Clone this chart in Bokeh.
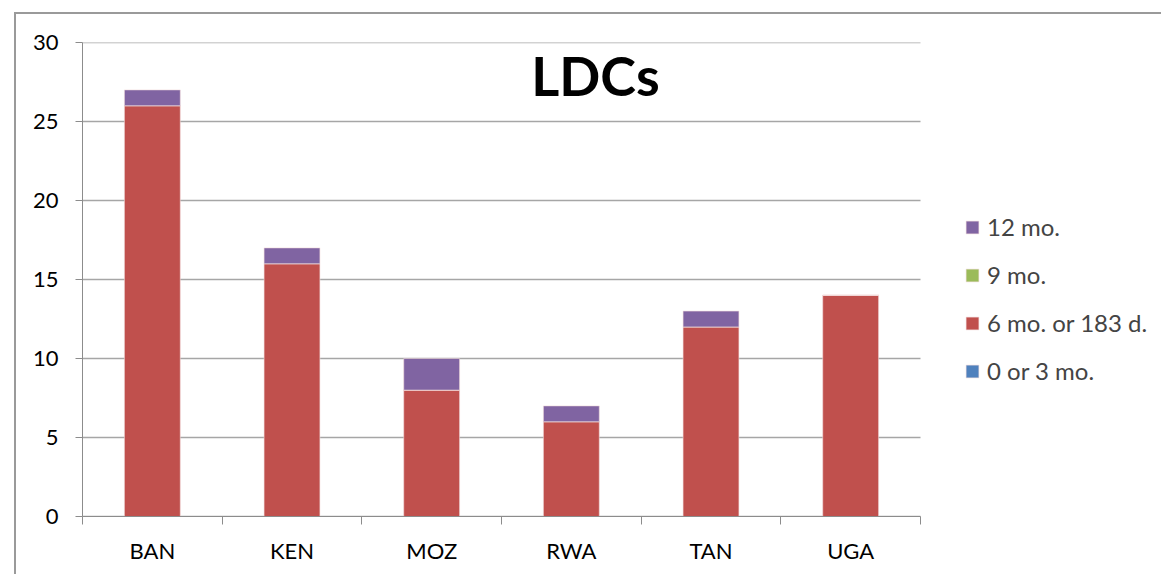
from bokeh.plotting import figure
from bokeh.models import (Range1d, FixedTicker, LinearAxis, Legend, LegendItem,
                          Label, ColumnDataSource)
from bokeh.embed import file_html
from bokeh.resources import INLINE

countries = ["BAN", "KEN", "MOZ", "RWA", "TAN", "UGA"]
m0_3 = [0, 0, 0, 0, 0, 0]
m6 = [26, 16, 8, 6, 12, 14]
m9 = [0, 0, 0, 0, 0, 0]
m12 = [1, 1, 2, 1, 1, 0]
series = ["0 or 3 mo.", "6 mo. or 183 d.", "9 mo.", "12 mo."]
colors = ["#4F81BD", "#C0504D", "#9BBB59", "#8064A2"]
y_ticks = [0, 5, 10, 15, 20, 25, 30]

FONT = "Lato"
GRID = "#A6A6A6"
AXIS = "#8C8C8C"

W, H = 1147, 562
BL, BR, BT, BB = 66, 3, 28, 60
frame_w = W - BL - BR
plot_w = 838  # pixel width of the category area
n = len(countries)
x_end = n * frame_w / plot_w

xs = [i + 0.5 for i in range(n)]
src = ColumnDataSource(dict(x=xs, s0=m0_3, s1=m6, s2=m9, s3=m12))

p = figure(width=W, height=H, output_backend="svg", toolbar_location=None,
           x_range=Range1d(0, x_end), y_range=Range1d(0, 30),
           x_axis_location=None, min_border_left=BL, min_border_top=BT,
           min_border_right=BR, min_border_bottom=BB)
p.outline_line_color = None
p.background_fill_color = "white"
p.border_fill_color = "white"
p.styles = {"margin-left": "14px", "margin-top": "12px",
            "border-left": "2px solid #9A9A9A", "border-top": "2px solid #9A9A9A"}

# horizontal grid lines limited to the category area
p.xgrid.grid_line_color = None
p.ygrid.grid_line_color = None
p.segment(x0=[0] * len(y_ticks), x1=[n] * len(y_ticks), y0=y_ticks, y1=y_ticks,
          line_color=GRID, line_width=1.5, level="underlay")

renderers = p.vbar_stack(["s0", "s1", "s2", "s3"], x="x", width=0.4, source=src,
                         color=colors, line_color="#F2DCDB", line_width=0.6)

# y axis
p.yaxis.ticker = FixedTicker(ticks=y_ticks)
p.yaxis.axis_line_color = AXIS
p.yaxis.major_tick_line_color = AXIS
p.yaxis.major_tick_in = 0
p.yaxis.major_tick_out = 7
p.yaxis.minor_tick_line_color = None
p.yaxis.major_label_text_font = FONT
p.yaxis.major_label_text_font_size = "22px"
p.yaxis.major_label_text_color = "black"
p.yaxis.major_label_standoff = 17

# x axis: tick marks at category boundaries
tick_axis = LinearAxis(ticker=FixedTicker(ticks=list(range(n + 1))), bounds=(0, n))
tick_axis.major_label_overrides = {i: "" for i in range(n + 1)}
tick_axis.major_label_text_font_size = "0px"
tick_axis.major_label_standoff = 0
tick_axis.major_tick_in = 0
tick_axis.major_tick_out = 8
tick_axis.minor_tick_line_color = None
tick_axis.axis_line_color = AXIS
tick_axis.major_tick_line_color = AXIS
p.add_layout(tick_axis, "below")

label_axis = LinearAxis(ticker=FixedTicker(ticks=xs))
label_axis.major_label_overrides = {x: c for x, c in zip(xs, countries)}
label_axis.axis_line_color = None
label_axis.major_tick_line_color = None
label_axis.minor_tick_line_color = None
label_axis.major_label_text_font = FONT
label_axis.major_label_text_font_size = "22px"
label_axis.major_label_text_color = "black"
label_axis.major_label_standoff = 6
p.add_layout(label_axis, "below")

# legend (reverse order, to the right of the bars)
items = [LegendItem(label=series[i], renderers=[renderers[i]]) for i in [3, 2, 1, 0]]
legend = Legend(items=items, location=(882, 131), orientation="vertical",
                glyph_width=16, glyph_height=16, label_height=22, spacing=19,
                padding=0, margin=0, label_standoff=7,
                label_text_font=FONT, label_text_font_size="24px",
                border_line_color=None, background_fill_alpha=0)
p.add_layout(legend, "center")

title = Label(x=513, y=441, x_units="screen", y_units="screen", text="LDCs",
              text_font=FONT, text_font_size="54px", text_font_style="bold",
              text_align="center", text_baseline="middle", text_color="black")
p.add_layout(title)

open("out.html", "w").write(file_html(p, INLINE))
